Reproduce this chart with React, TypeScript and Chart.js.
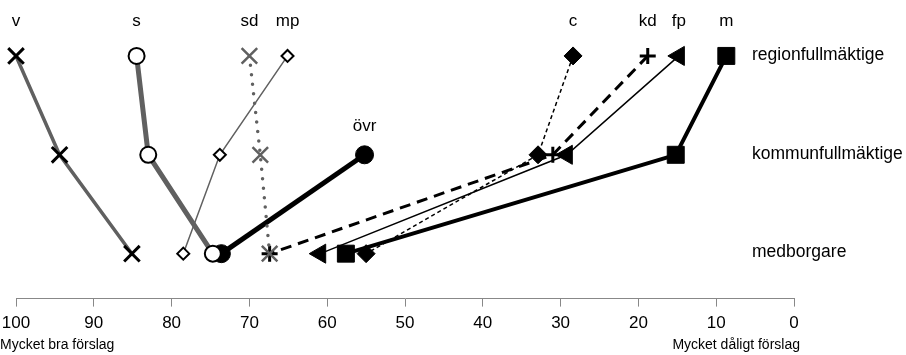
import React, { useEffect, useRef } from 'react';
import { Chart, registerables } from 'chart.js';
Chart.register(...registerables);

// y levels (top to bottom)
const levels = ['regionfullmäktige', 'kommunfullmäktige', 'medborgare'];
const levelValues = [2, 1, 0];

const parties = ['v', 's', 'sd', 'mp', 'övr', 'c', 'kd', 'fp', 'm'];
// values per party: [regionfullmäktige, kommunfullmäktige, medborgare]
const vVals = [100, 94.4, 85.1];
const sVals = [84.5, 83.0, 74.7];
const sdVals = [70.0, 68.6, 67.4];
const mpVals = [65.1, 73.8, 78.5];
const ovrVals = [null, 55.2, 73.6];
const cVals = [28.4, 32.9, 55.0];
const kdVals = [18.8, 31.0, 67.4];
const fpVals = [14.8, 29.2, 60.9];
const mVals = [8.7, 15.2, 57.6];

const xTicks = [100, 90, 80, 70, 60, 50, 40, 30, 20, 10, 0];
const leftTitle = 'Mycket bra förslag';
const rightTitle = 'Mycket dåligt förslag';

const FONT = "'Liberation Sans', Arial, sans-serif";
const GRAY = '#606060';

function pts(vals: (number | null)[]) {
  return levelValues
    .map((lv, i) => (vals[i] == null ? null : { x: vals[i] as number, y: lv }))
    .filter((p) => p !== null) as { x: number; y: number }[];
}

const labelPlugin = {
  id: 'labelPlugin',
  afterDatasetsDraw(chart: any) {
    const ctx = chart.ctx;
    const ys = chart.scales.y;
    const area = chart.chartArea;
    ctx.save();
    ctx.fillStyle = '#000';
    ctx.textBaseline = 'middle';
    // party labels above first point
    ctx.font = `17px ${FONT}`;
    ctx.textAlign = 'center';
    chart.data.datasets.forEach((ds: any, i: number) => {
      const meta = chart.getDatasetMeta(i);
      const p = meta.data[0];
      if (!p) return;
      const first = ds.data[0];
      const off = first.y === levelValues[0] ? 35 : 28;
      ctx.fillText(parties[i], p.x, p.y - off);
    });
    // level labels on the right
    ctx.font = `17.5px ${FONT}`;
    ctx.textAlign = 'left';
    levels.forEach((l, i) => {
      ctx.fillText(l, area.right - 42, ys.getPixelForValue(levelValues[i]) - 1);
    });
    // axis end titles
    ctx.font = `14px ${FONT}`;
    ctx.textAlign = 'left';
    ctx.fillText(leftTitle, 0, 345);
    ctx.textAlign = 'right';
    ctx.fillText(rightTitle, area.right + 6, 345);
    ctx.restore();
  },
};

export default function App() {
  const ref = useRef<HTMLCanvasElement>(null);
  useEffect(() => {
    document.body.style.margin = '0';
    const base = { showLine: true, clip: false as any, fill: false, tension: 0 };
    const chart = new Chart(ref.current!, {
      type: 'scatter',
      data: {
        datasets: [
          { ...base, label: 'v', data: pts(vVals), borderColor: GRAY, borderWidth: 3.5,
            pointStyle: 'crossRot', pointRadius: 11, pointBorderColor: '#000', pointBackgroundColor: '#000', pointBorderWidth: 3 },
          { ...base, label: 's', data: pts(sVals), borderColor: GRAY, borderWidth: 5,
            pointStyle: 'circle', pointRadius: 8, pointBorderColor: '#000', pointBackgroundColor: '#fff', pointBorderWidth: 2 },
          { ...base, label: 'sd', data: pts(sdVals), borderColor: GRAY, borderWidth: 3.5, borderDash: [0, 9.5], borderCapStyle: 'round',
            pointStyle: 'crossRot', pointRadius: 11, pointBorderColor: GRAY, pointBackgroundColor: GRAY, pointBorderWidth: 2.5 },
          { ...base, label: 'mp', data: pts(mpVals), borderColor: GRAY, borderWidth: 1.5,
            pointStyle: 'rectRot', pointRadius: 6, pointBorderColor: '#000', pointBackgroundColor: '#fff', pointBorderWidth: 2 },
          { ...base, label: 'övr', data: pts(ovrVals), borderColor: '#000', borderWidth: 5,
            pointStyle: 'circle', pointRadius: 9, pointBorderColor: '#000', pointBackgroundColor: '#000', pointBorderWidth: 1 },
          { ...base, label: 'c', data: pts(cVals), borderColor: '#000', borderWidth: 1.5, borderDash: [4, 3],
            pointStyle: 'rectRot', pointRadius: 9, pointBorderColor: '#000', pointBackgroundColor: '#000', pointBorderWidth: 1 },
          { ...base, label: 'kd', data: pts(kdVals), borderColor: '#000', borderWidth: 3, borderDash: [11, 7],
            pointStyle: 'cross', pointRadius: 8, pointBorderColor: '#000', pointBackgroundColor: '#000', pointBorderWidth: 3 },
          { ...base, label: 'fp', data: pts(fpVals), borderColor: '#000', borderWidth: 1.5,
            pointStyle: 'triangle', pointRotation: -90, pointRadius: 11, pointBorderColor: '#000', pointBackgroundColor: '#000', pointBorderWidth: 1 },
          { ...base, label: 'm', data: pts(mVals), borderColor: '#000', borderWidth: 4,
            pointStyle: 'rect', pointRadius: 12, pointBorderColor: '#000', pointBackgroundColor: '#000', pointBorderWidth: 1 },
        ] as any,
      },
      options: {
        responsive: false,
        animation: false,
        events: [],
        layout: { autoPadding: false, padding: { left: 16, right: 112, top: 0, bottom: 14 } },
        plugins: { legend: { display: false }, tooltip: { enabled: false } },
        scales: {
          x: {
            type: 'linear',
            min: 0,
            max: 100,
            reverse: true,
            afterBuildTicks: (axis: any) => {
              axis.ticks = xTicks.map((v) => ({ value: v }));
            },
            afterFit: (axis: any) => {
              axis.paddingLeft = 0;
              axis.paddingRight = 0;
            },
            ticks: { color: '#000', font: { family: FONT, size: 17 }, padding: 7, maxRotation: 0, autoSkip: false },
            grid: { display: true, drawOnChartArea: false, drawTicks: true, tickLength: 8, color: '#888', lineWidth: 1 },
            border: { display: true, color: '#888', width: 1 },
          },
          y: {
            type: 'linear',
            display: false,
            min: -0.4545,
            max: 2.5657,
          },
        },
      },
      plugins: [labelPlugin],
    });
    return () => chart.destroy();
  }, []);
  return (
    <div style={{ width: 906, height: 355 }}>
      <canvas ref={ref} width={906} height={355} style={{ display: 'block' }} />
    </div>
  );
}
